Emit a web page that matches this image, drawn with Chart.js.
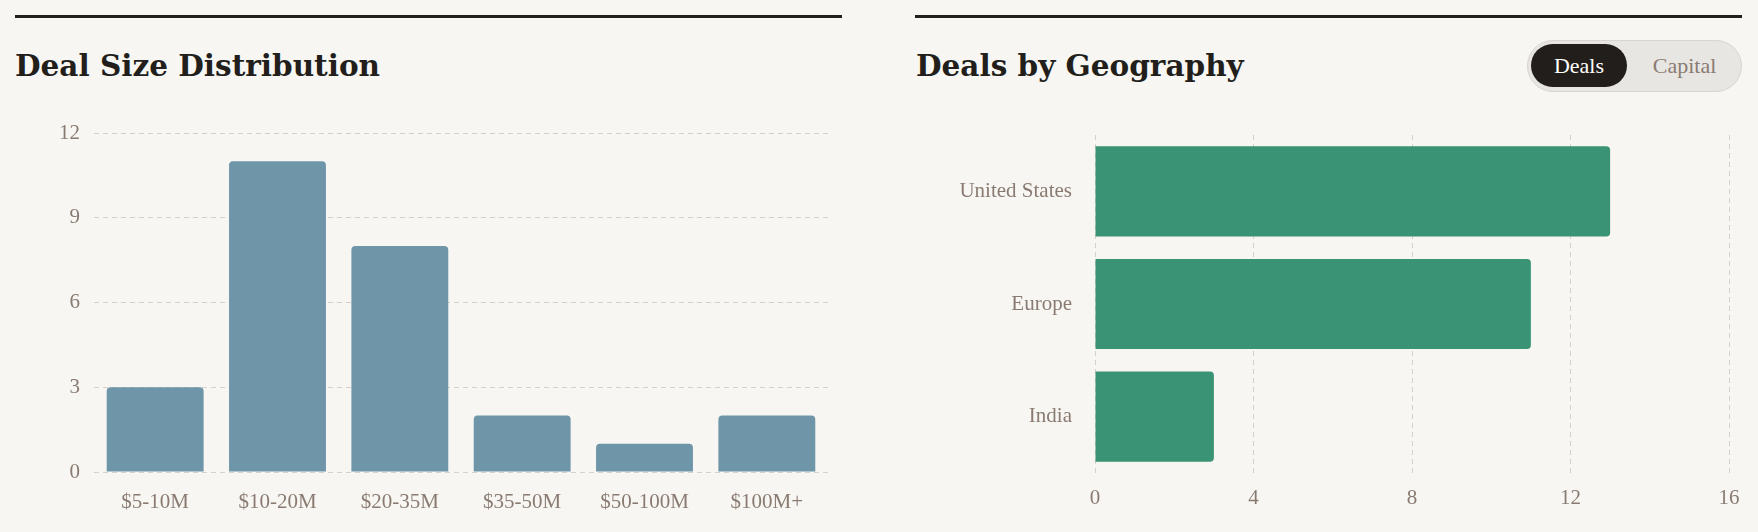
<!DOCTYPE html>
<html>
<head>
<meta charset="utf-8">
<script src="https://cdn.jsdelivr.net/npm/chart.js@4/dist/chart.umd.min.js"></script>
<style>
  html, body { margin:0; padding:0; background:#f7f6f2; width:1758px; height:532px; overflow:hidden; }
  .rule { position:absolute; height:3px; background:#231f1c; top:15px; }
  .title { position:absolute; font-family:'DejaVu Serif', serif; font-weight:bold; font-size:29.5px; color:#221e1b; line-height:1; white-space:nowrap; }
  .box { position:absolute; }
  .toggle { position:absolute; left:1527px; top:40px; width:213px; height:50px; border:1px solid #d9d5cf; background:#e8e6e2; border-radius:26px; box-sizing:content-box; }
  .tog-on { position:absolute; left:3px; top:3px; width:96px; height:43px; border-radius:22px; background:#221e1b; color:#fff; font-family:'Liberation Serif', serif; font-size:22px; line-height:43px; text-align:center; }
  .tog-off { position:absolute; left:104px; top:3px; width:105px; height:43px; color:#8a7b72; font-family:'Liberation Serif', serif; font-size:22px; line-height:43px; text-align:center; }
</style>
</head>
<body>
<div class="rule" style="left:15px;width:827px;"></div>
<div class="rule" style="left:915px;width:827px;"></div>
<div class="title" style="left:15px;top:51px;">Deal Size Distribution</div>
<div class="title" style="left:916px;top:51px;">Deals by Geography</div>
<div class="toggle"><div class="tog-on">Deals</div><div class="tog-off">Capital</div></div>
<div class="box" style="left:15px;top:110px;width:826px;height:410px;"><canvas id="c1" width="826" height="410"></canvas></div>
<div class="box" style="left:915px;top:110px;width:827px;height:410px;"><canvas id="c2" width="827" height="410"></canvas></div>
<script>
const sizeLabels = ['$5-10M', '$10-20M', '$20-35M', '$35-50M', '$50-100M', '$100M+'];
const sizeCounts = [3, 11, 8, 2, 1, 2];
const sizeAxisMax = 12;
const sizeAxisStep = 3;

const geoLabels = ['United States', 'Europe', 'India'];
const geoDeals = [13, 11, 3];
const geoAxisMax = 16;
const geoAxisStep = 4;

const tickFont = { family: "'Liberation Serif', serif", size: 21 };
const tickColor = '#8a7b72';
const gridColor = '#d6d0c9';

new Chart(document.getElementById('c1'), {
  type: 'bar',
  data: { labels: sizeLabels, datasets: [{ data: sizeCounts, backgroundColor: '#6f95a9', borderRadius: 4, borderSkipped: 'start', categoryPercentage: 0.8, barPercentage: 0.99 }] },
  options: {
    responsive: false, animation: false,
    layout: { padding: { top: 23, right: 13, left: 0, bottom: 0 } },
    plugins: { legend: { display: false }, tooltip: { enabled: false } },
    scales: {
      x: {
        grid: { display: false },
        border: { display: false },
        ticks: { color: tickColor, font: tickFont, padding: 10, maxRotation: 0 },
        afterFit(s) { s.height = 48; s.paddingLeft = 0; s.paddingRight = 0; }
      },
      y: {
        min: 0, max: sizeAxisMax,
        grid: { color: gridColor, drawTicks: false, lineWidth: 1 },
        border: { display: false, dash: [5, 4] },
        ticks: { stepSize: sizeAxisStep, color: tickColor, font: tickFont, padding: 14 },
        afterFit(s) { s.width = 79; s.paddingTop = 0; s.paddingBottom = 0; }
      }
    }
  }
});

new Chart(document.getElementById('c2'), {
  type: 'bar',
  data: { labels: geoLabels, datasets: [{ data: geoDeals, backgroundColor: '#3a9375', borderRadius: 4, borderSkipped: 'start', categoryPercentage: 0.8, barPercentage: 1.0 }] },
  options: {
    indexAxis: 'y',
    responsive: false, animation: false,
    layout: { padding: { top: 25, right: 13, left: 0, bottom: 0 } },
    plugins: { legend: { display: false }, tooltip: { enabled: false } },
    scales: {
      x: {
        min: 0, max: geoAxisMax,
        grid: { color: gridColor, drawTicks: false, lineWidth: 1 },
        border: { display: false, dash: [5, 4] },
        ticks: { stepSize: geoAxisStep, color: tickColor, font: tickFont, padding: 13 },
        afterFit(s) { s.height = 47; s.paddingLeft = 0; s.paddingRight = 0; }
      },
      y: {
        grid: { display: false },
        border: { display: false },
        ticks: { color: tickColor, font: tickFont, padding: 15 },
        afterFit(s) { s.width = 180; s.paddingTop = 0; s.paddingBottom = 0; }
      }
    }
  }
});
</script>
</body>
</html>
